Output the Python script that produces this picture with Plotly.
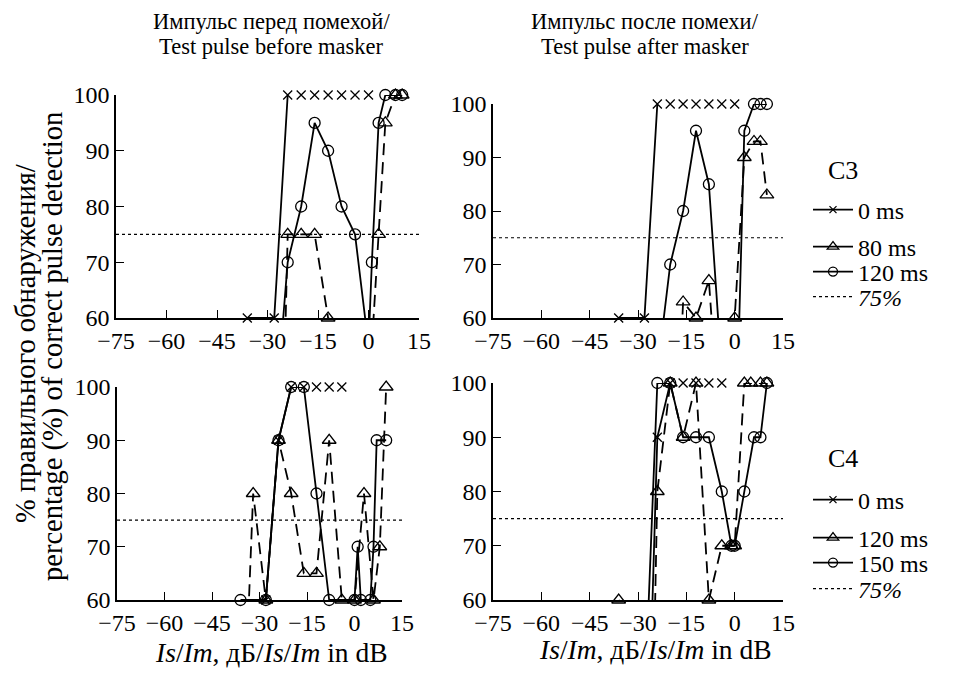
import plotly.graph_objects as go
from plotly.subplots import make_subplots

FONT = "Liberation Serif, Times New Roman, Times, DejaVu Serif, serif"

x_ticks = [-75, -60, -45, -30, -15, 0, 15]
x_ticktext = ["−75", "−60", "−45", "−30", "−15", "0", "15"]
y_ticks = [60, 70, 80, 90, 100]
criterion_x = [-75, 15]
criterion_y = [75, 75]

# C3, test pulse before masker
c3b_0_x = [-36, -28, -24, -20, -16, -12, -8, -4, 0]
c3b_0_y = [60, 60, 100, 100, 100, 100, 100, 100, 100]
c3b_80_x = [-25, -24, -20, -16, -12, 1, 3, 5, 8, 10]
c3b_80_y = [50, 75, 75, 75, 60, 55, 75, 95, 100, 100]
c3b_120_x = [-26, -24, -20, -16, -12, -8, -4, 0, 1, 3, 5, 8, 10]
c3b_120_y = [55, 70, 80, 95, 90, 80, 75, 55, 70, 95, 100, 100, 100]

# C3, test pulse after masker
c3a_0_x = [-36, -28, -24, -20, -16, -12, -8, -4, 0]
c3a_0_y = [60, 60, 100, 100, 100, 100, 100, 100, 100]
c3a_80_x = [-17, -16, -12, -8, -6, 0, 3, 6, 8, 10]
c3a_80_y = [50, 63, 60, 67, 50, 60, 90, 93, 93, 83]
c3a_120_x = [-23, -20, -16, -12, -8, -4, 1, 3, 6, 8, 10]
c3a_120_y = [55, 70, 80, 95, 85, 50, 50, 95, 100, 100, 100]

# C4, test pulse before masker
c4b_0_x = [-28, -24, -20, -16, -12, -8, -4]
c4b_0_y = [60, 90, 100, 100, 100, 100, 100]
c4b_120_x = [-34, -32, -28, -24, -20, -16, -12, -8, -4, 0, 3, 6, 8, 10]
c4b_120_y = [50, 80, 60, 90, 80, 65, 65, 90, 60, 60, 80, 60, 70, 100]
c4b_150_x = [-36, -28, -24, -20, -16, -12, -8, 0, 1, 2, 5, 6, 7, 10]
c4b_150_y = [60, 60, 90, 100, 100, 80, 60, 60, 70, 60, 60, 70, 90, 90]

# C4, test pulse after masker
c4a_0_x = [-26, -24, -20, -16, -12, -8, -4]
c4a_0_y = [50, 90, 100, 100, 100, 100, 100]
c4a_120_x = [-36, -25, -24, -20, -16, -12, -8, -4, -1, 0, 3, 5, 8, 10]
c4a_120_y = [60, 50, 80, 100, 90, 100, 60, 70, 70, 70, 100, 100, 100, 100]
c4a_150_x = [-27, -24, -20, -16, -12, -8, -4, -1, 0, 3, 6, 8, 10]
c4a_150_y = [55, 100, 100, 90, 90, 90, 80, 70, 70, 80, 90, 90, 100]

W, H = 963, 675
OFF = 8  # page body margin of the browser
FW, FH = W - OFF, H - OFF


def px(x):
    return (x - OFF) / FW


def py(y):
    return 1 - (y - OFF) / FH


fig = make_subplots(rows=2, cols=2)

STYLE = {
    "x": dict(symbol="x-thin-open", size=9, dash="solid"),
    "tri": dict(symbol="triangle-up-open", size=12, dash="12px,7px"),
    "circ": dict(symbol="circle-open", size=11, dash="solid"),
}


def break_ceiling(x, y):
    bx, by = [], []
    for i, (a, b) in enumerate(zip(x, y)):
        if i > 0 and b == 100 and y[i - 1] == 100:
            bx.append(None)
            by.append(None)
        bx.append(a)
        by.append(b)
    return bx, by


def add_series(x, y, row, col, name, kind, legend=None, no_ceiling_line=False):
    st = STYLE[kind]
    lx, ly = break_ceiling(x, y) if no_ceiling_line else (x, y)
    fig.add_trace(go.Scatter(x=lx, y=ly, mode="lines", showlegend=False,
                             line=dict(color="black", width=1.8, dash=st["dash"]),
                             hoverinfo="skip"), row=row, col=col)
    mx = [a for a, b in zip(x, y) if b >= 60]
    my = [b for b in y if b >= 60]
    fig.add_trace(go.Scatter(x=mx, y=my, mode="markers", showlegend=False, cliponaxis=False,
                             marker=dict(symbol=st["symbol"], size=st["size"], color="black",
                                         line=dict(color="black", width=1.3))),
                  row=row, col=col)
    if legend:
        fig.add_trace(go.Scatter(x=[None], y=[None], mode="lines+markers", name=name,
                                 legend=legend,
                                 line=dict(color="black", width=1.8, dash="solid"),
                                 marker=dict(symbol=st["symbol"], size=st["size"] - 2, color="black",
                                             line=dict(color="black", width=1.3))),
                      row=row, col=col)


def add_criterion(row, col, legend=None):
    fig.add_trace(go.Scatter(x=criterion_x, y=criterion_y, mode="lines", name="<i>75%</i>",
                             legend=legend or "legend", showlegend=bool(legend),
                             line=dict(color="black", width=1.1, dash="dot")), row=row, col=col)


add_series(c3b_0_x, c3b_0_y, 1, 1, "0 ms", "x", "legend", True)
add_series(c3b_80_x, c3b_80_y, 1, 1, "80 ms", "tri", "legend2")
add_series(c3b_120_x, c3b_120_y, 1, 1, "120 ms", "circ", "legend3")
add_criterion(1, 1, "legend4")

add_series(c3a_0_x, c3a_0_y, 1, 2, "0 ms", "x", None, True)
add_series(c3a_80_x, c3a_80_y, 1, 2, "80 ms", "tri")
add_series(c3a_120_x, c3a_120_y, 1, 2, "120 ms", "circ")
add_criterion(1, 2)

add_series(c4b_0_x, c4b_0_y, 2, 1, "0 ms", "x", "legend5", True)
add_series(c4b_120_x, c4b_120_y, 2, 1, "120 ms", "tri", "legend6")
add_series(c4b_150_x, c4b_150_y, 2, 1, "150 ms", "circ", "legend7")
add_criterion(2, 1, "legend8")

add_series(c4a_0_x, c4a_0_y, 2, 2, "0 ms", "x", None, True)
add_series(c4a_120_x, c4a_120_y, 2, 2, "120 ms", "tri")
add_series(c4a_150_x, c4a_150_y, 2, 2, "150 ms", "circ")
add_criterion(2, 2)

# panel boxes in target pixels: (left, right, top, bottom)
boxes = {
    (1, 1): (116, 419, 95, 318),
    (1, 2): (493, 783, 104, 318),
    (2, 1): (117, 402, 387, 600),
    (2, 2): (493, 783, 383, 600),
}
tickfont = dict(family=FONT, size=24, color="black")
for (r, c), (l, rr, t, b) in boxes.items():
    fig.update_xaxes(domain=[px(l), px(rr)], range=[-75, 15], tickvals=x_ticks, ticktext=x_ticktext,
                     showline=True, linecolor="black", linewidth=1.5, ticks="inside", ticklen=8,
                     tickwidth=1.3, tickcolor="black", showgrid=False, zeroline=False,
                     automargin=False, tickfont=tickfont, row=r, col=c)
    fig.update_yaxes(domain=[py(b), py(t)], range=[60, 100], tickvals=y_ticks,
                     showline=True, linecolor="black", linewidth=1.5, ticks="inside", ticklen=8,
                     tickwidth=1.3, tickcolor="black", showgrid=False, zeroline=False,
                     automargin=False, tickfont=tickfont, row=r, col=c)

ann = [
    dict(x=px(271), y=py(21), text="Импульс перед помехой/", size=22.5),
    dict(x=px(271), y=py(46), text="Test pulse before masker", size=22.5),
    dict(x=px(645), y=py(21), text="Импульс после помехи/", size=22.5),
    dict(x=px(645), y=py(46), text="Test pulse after masker", size=22.5),
    dict(x=px(271), y=py(652), text="<i>Is</i>/<i>Im</i>, дБ/<i>Is</i>/<i>Im</i> in dB", size=27.5),
    dict(x=px(655), y=py(649), text="<i>Is</i>/<i>Im</i>, дБ/<i>Is</i>/<i>Im</i> in dB", size=27.5),
    dict(x=px(843), y=py(170), text="C3", size=26),
    dict(x=px(843), y=py(458), text="C4", size=26),
    dict(x=px(25), y=py(344), text="% правильного обнаружения/", size=28.5, textangle=-90),
    dict(x=px(53), y=py(347), text="percentage (%) of correct pulse detection", size=28.5, textangle=-90),
]
annotations = []
for a in ann:
    s = a.pop("size")
    a.update(xref="paper", yref="paper", showarrow=False,
             font=dict(family=FONT, size=s, color="black"),
             xanchor="center", yanchor="middle")
    annotations.append(a)

legfont = dict(family=FONT, size=24, color="black")
leg_rows = {"legend": 210, "legend2": 247, "legend3": 272, "legend4": 297,
            "legend5": 500, "legend6": 538, "legend7": 563, "legend8": 589}
legends = {}
for key, yy in leg_rows.items():
    legends[key] = dict(x=px(808), y=py(yy), xanchor="left", yanchor="middle", font=legfont,
                        bgcolor="rgba(0,0,0,0)", itemwidth=40, tracegroupgap=0)

fig.update_layout(
    width=FW, height=FH, margin=dict(l=0, r=0, t=0, b=0, pad=0, autoexpand=False),
    paper_bgcolor="white", plot_bgcolor="white",
    font=dict(family=FONT, color="black"),
    annotations=annotations,
    **legends,
)

fig.write_html("out.html")
